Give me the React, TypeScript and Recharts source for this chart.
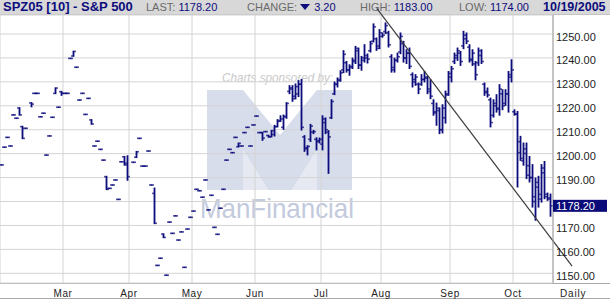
import React from "react";
import { ComposedChart, Bar, XAxis, YAxis, CartesianGrid, ReferenceLine } from "recharts";

const NAVY = "#0c0c7c";
const GRID = "#d4d4d4";
const FONT = "'Liberation Sans', Arial, sans-serif";

// trading-day index of the first session of each month (day 0 = Jan 28)
const monthTicks = [21, 43, 64, 85, 107, 127, 150, 171];
const monthLabels = ["Mar", "Apr", "May", "Jun", "Jul", "Aug", "Sep", "Oct"];
const priceTicks = [1150, 1160, 1170, 1180, 1190, 1200, 1210, 1220, 1230, 1240, 1250];
const priceDomain = [1145.95, 1257.94];
const lastClose = 1178.2;

// hand drawn trend line (day index, price)
const trendStart = { day: 125.1, price: 1260.7 };
const trendEnd = { day: 190.2, price: 1153.0 };

// daily [open, high, low, close], null = no trade
const ohlc: ([number, number, number, number] | null)[] = [
  [1195.3, 1195.3, 1195.3, 1195.3],
  [1202.7, 1202.7, 1202.7, 1202.7],
  [1206.8, 1206.8, 1206.8, 1206.8],
  [1203.2, 1203.2, 1203.2, 1203.2],
  [1216.2, 1216.2, 1216.2, 1216.2],
  [1214.8, 1214.8, 1214.8, 1214.8],
  [1219.1, 1219.1, 1216.2, 1216.2],
  [1211.3, 1211.3, 1206.4, 1206.4],
  [1210.6, 1210.6, 1210.6, 1210.6],
  null,
  [1221.2, 1221.2, 1219.7, 1220.7],
  [1225.2, 1225.2, 1225.2, 1225.2],
  [1225.2, 1225.2, 1225.2, 1225.2],
  [1215.4, 1215.4, 1215.4, 1215.4],
  [1216.9, 1216.9, 1216.9, 1216.9],
  [1199.4, 1199.4, 1199.4, 1199.4],
  [1207.4, 1207.4, 1207.4, 1207.4],
  [1215.2, 1215.2, 1215.2, 1215.2],
  [1225.2, 1227.4, 1225.2, 1227.4],
  [1219.4, 1219.4, 1219.4, 1219.4],
  [1225.9, 1225.9, 1224.5, 1225.2],
  [1225.2, 1225.2, 1225.2, 1225.2],
  [1225.2, 1225.2, 1225.2, 1225.2],
  [1239.8, 1239.8, 1239.8, 1239.8],
  [1240.8, 1242.7, 1240.8, 1242.7],
  [1236.1, 1236.1, 1236.1, 1236.1],
  [1222.4, 1222.4, 1222.4, 1222.4],
  [1225.2, 1225.2, 1225.2, 1225.2],
  [1216.4, 1216.4, 1216.4, 1216.4],
  [1223.1, 1223.1, 1223.1, 1223.1],
  [1214.1, 1214.1, 1212.4, 1212.4],
  [1203.2, 1203.2, 1203.2, 1203.2],
  [1205.2, 1205.2, 1205.2, 1205.2],
  [1201.8, 1201.8, 1201.8, 1201.8],
  [1197.3, 1197.3, 1197.3, 1197.3],
  [1190.4, 1190.4, 1185.1, 1185.1],
  [1185.5, 1185.5, 1185.5, 1185.5],
  [1186.9, 1186.9, 1186.9, 1186.9],
  [1189.0, 1189.0, 1189.0, 1189.0],
  [1180.9, 1180.9, 1180.9, 1180.9],
  [1196.6, 1196.6, 1196.6, 1196.6],
  [1198.7, 1198.7, 1195.3, 1195.3],
  [1196.0, 1199.0, 1189.0, 1190.4],
  null,
  [1196.4, 1196.4, 1196.4, 1196.4],
  [1198.5, 1200.8, 1198.5, 1200.8],
  [1206.4, 1206.4, 1206.4, 1206.4],
  [1194.8, 1194.8, 1194.8, 1194.8],
  [1194.8, 1194.8, 1194.8, 1194.8],
  [1201.1, 1201.1, 1201.1, 1201.1],
  [1186.9, 1186.9, 1186.9, 1186.9],
  [1183.4, 1185.5, 1170.9, 1170.9],
  [1153.3, 1153.3, 1153.3, 1153.3],
  [1156.3, 1156.3, 1156.3, 1156.3],
  [1166.4, 1166.4, 1165.0, 1165.0],
  [1149.2, 1149.2, 1149.2, 1149.2],
  [1171.4, 1171.4, 1171.4, 1171.4],
  [1166.7, 1166.7, 1166.7, 1166.7],
  [1174.0, 1174.0, 1174.0, 1174.0],
  [1163.9, 1163.9, 1163.9, 1163.9],
  [1167.3, 1167.3, 1167.3, 1167.3],
  [1152.5, 1152.5, 1152.5, 1152.5],
  [1168.5, 1168.5, 1168.5, 1168.5],
  [1173.4, 1173.4, 1173.4, 1173.4],
  [1176.0, 1176.0, 1176.0, 1176.0],
  [1185.1, 1185.1, 1185.1, 1185.1],
  [1184.5, 1184.5, 1184.5, 1184.5],
  [1181.8, 1181.8, 1181.8, 1181.8],
  [1189.0, 1189.0, 1189.0, 1189.0],
  [1176.5, 1176.5, 1176.5, 1176.5],
  [1182.6, 1182.6, 1182.6, 1182.6],
  [1169.2, 1169.2, 1169.2, 1169.2],
  [1166.3, 1166.3, 1166.3, 1166.3],
  [1177.2, 1177.2, 1177.2, 1177.2],
  [1185.1, 1185.1, 1185.1, 1185.1],
  [1197.3, 1197.3, 1197.3, 1197.3],
  [1201.8, 1201.8, 1201.8, 1201.8],
  [1200.4, 1200.4, 1200.4, 1200.4],
  [1206.8, 1206.8, 1206.8, 1206.8],
  [1202.9, 1204.3, 1202.9, 1204.3],
  [1203.2, 1203.2, 1203.2, 1203.2],
  [1208.8, 1208.8, 1208.8, 1208.8],
  [1211.0, 1211.0, 1211.0, 1211.0],
  [1203.2, 1203.2, 1203.2, 1203.2],
  [1212.0, 1212.0, 1212.0, 1212.0],
  [1215.7, 1215.7, 1215.7, 1215.7],
  [1208.8, 1208.8, 1208.8, 1208.8],
  [1208.8, 1208.8, 1205.7, 1206.5],
  [1209.2, 1209.2, 1209.2, 1209.2],
  [1207.6, 1207.6, 1207.0, 1207.0],
  [1207.1, 1209.6, 1207.1, 1209.6],
  [1208.0, 1211.7, 1207.5, 1211.3],
  [1211.3, 1214.1, 1211.3, 1213.5],
  [1213.8, 1215.7, 1213.6, 1214.5],
  [1211.0, 1216.0, 1210.3, 1215.5],
  [1215.5, 1221.2, 1214.9, 1221.0],
  [1226.0, 1228.3, 1225.2, 1227.5],
  [1227.0, 1228.3, 1222.0, 1223.0],
  [1224.0, 1229.0, 1223.0, 1228.0],
  [1225.0, 1230.4, 1224.0, 1229.0],
  [1229.0, 1230.9, 1210.0, 1211.0],
  [1207.0, 1207.4, 1201.1, 1202.5],
  [1202.0, 1203.2, 1199.6, 1203.0],
  [1206.0, 1212.1, 1205.2, 1211.5],
  [1209.0, 1209.6, 1208.5, 1209.2],
  [1206.0, 1206.5, 1201.7, 1205.5],
  [1205.0, 1206.4, 1204.6, 1206.0],
  [1204.0, 1215.7, 1201.7, 1214.5],
  [1213.0, 1214.8, 1208.5, 1210.0],
  [1209.0, 1209.5, 1191.9, 1207.0],
  [1215.0, 1222.4, 1214.8, 1221.8],
  [1225.0, 1229.8, 1224.8, 1229.0],
  [1229.0, 1231.5, 1228.0, 1230.5],
  [1231.0, 1234.5, 1230.4, 1233.8],
  [1235.0, 1242.9, 1234.0, 1241.5],
  [1238.0, 1238.4, 1234.2, 1235.0],
  [1235.0, 1237.0, 1232.9, 1236.5],
  [1236.0, 1239.8, 1235.7, 1239.0],
  [1238.5, 1244.7, 1237.8, 1244.0],
  [1243.0, 1244.0, 1235.7, 1237.0],
  [1237.0, 1240.5, 1235.0, 1240.0],
  [1239.0, 1245.4, 1238.4, 1241.0],
  [1240.0, 1241.5, 1238.0, 1239.5],
  [1243.0, 1246.8, 1242.6, 1246.0],
  [1247.0, 1254.1, 1246.8, 1253.0],
  [1248.0, 1248.2, 1243.3, 1244.0],
  [1245.0, 1251.7, 1244.0, 1250.5],
  [1249.0, 1250.3, 1248.8, 1249.5],
  [1251.0, 1254.5, 1250.3, 1253.5],
  [1250.5, 1251.0, 1244.7, 1245.5],
  [1240.5, 1241.2, 1234.2, 1236.0],
  [1235.0, 1239.8, 1234.2, 1239.0],
  [1239.0, 1241.9, 1238.4, 1240.5],
  [1242.5, 1250.3, 1241.9, 1249.0],
  [1246.0, 1246.8, 1238.4, 1240.0],
  [1240.0, 1243.3, 1237.8, 1242.0],
  [1242.0, 1244.0, 1235.7, 1236.5],
  [1233.0, 1233.6, 1228.0, 1231.0],
  [1230.0, 1232.9, 1228.7, 1232.0],
  [1229.0, 1229.4, 1225.2, 1227.0],
  [1229.0, 1232.9, 1228.7, 1231.0],
  [1231.0, 1234.2, 1230.1, 1232.0],
  [1231.5, 1232.2, 1225.2, 1226.0],
  [1227.0, 1230.8, 1223.1, 1224.0],
  [1221.0, 1222.4, 1216.2, 1217.5],
  [1217.0, 1221.0, 1212.0, 1219.0],
  [1218.0, 1219.0, 1208.5, 1210.0],
  [1210.0, 1220.3, 1208.8, 1219.0],
  [1215.0, 1226.0, 1212.9, 1224.5],
  [1225.0, 1234.2, 1224.5, 1233.5],
  [1232.0, 1236.3, 1230.1, 1235.5],
  [1238.5, 1241.9, 1237.8, 1241.0],
  [1240.0, 1244.0, 1239.1, 1243.0],
  [1242.0, 1242.6, 1237.0, 1238.5],
  [1245.0, 1251.0, 1244.0, 1249.5],
  [1248.0, 1250.3, 1246.1, 1247.0],
  [1244.5, 1245.4, 1238.4, 1239.0],
  [1239.5, 1243.3, 1237.0, 1242.0],
  [1237.5, 1238.4, 1231.0, 1233.0],
  [1238.0, 1244.0, 1237.0, 1243.0],
  [1241.0, 1243.3, 1237.8, 1238.5],
  [1229.0, 1229.4, 1224.5, 1225.5],
  [1226.0, 1227.3, 1223.8, 1224.5],
  [1222.5, 1223.1, 1211.3, 1213.0],
  [1216.0, 1222.4, 1215.4, 1221.0],
  [1220.0, 1224.5, 1217.5, 1218.5],
  [1219.0, 1228.7, 1216.2, 1227.0],
  [1225.0, 1226.6, 1218.5, 1220.0],
  [1221.0, 1226.6, 1220.3, 1225.0],
  [1225.0, 1234.2, 1217.5, 1232.0],
  [1233.0, 1239.1, 1230.1, 1235.0],
  [1217.5, 1218.2, 1216.2, 1216.5],
  [1216.5, 1217.5, 1186.2, 1200.4],
  [1205.0, 1207.1, 1197.3, 1198.0],
  [1197.0, 1204.3, 1195.3, 1200.1],
  [1202.0, 1204.3, 1189.7, 1191.0],
  [1195.0, 1198.7, 1188.3, 1190.0],
  [1190.0, 1195.3, 1177.8, 1180.0],
  [1182.0, 1189.7, 1172.3, 1188.0],
  [1186.0, 1190.4, 1177.8, 1181.0],
  [1183.0, 1195.3, 1179.9, 1194.0],
  [1192.0, 1196.6, 1181.3, 1183.0],
  [1182.0, 1183.4, 1180.6, 1181.5],
  [1181.0, 1183.0, 1174.0, 1178.2],
];

const data = ohlc.map((b, i) =>
  b ? { i, o: b[0], h: b[1], l: b[2], c: b[3], range: [b[2], b[1]] } : { i, range: null }
);

function OhlcShape(props: any) {
  const { x, y, width, height, payload } = props;
  if (!payload || payload.h == null) return null;
  const cx = x + width / 2;
  const top = Math.min(y, y + height);
  const bot = Math.max(y, y + height);
  const span = payload.h - payload.l;
  const py = (v: number) => (span === 0 ? top : top + ((payload.h - v) / span) * (bot - top));
  const yo = py(payload.o);
  const yc = py(payload.c);
  return (
    <g fill={NAVY}>
      <rect x={cx - 0.9} y={top - 0.8} width={1.8} height={bot - top + 1.6} />
      <rect x={cx - 2.2} y={yo - 0.8} width={1.4} height={1.6} />
      <rect x={cx + 0.8} y={yc - 0.8} width={1.4} height={1.6} />
    </g>
  );
}

function MonthTick(props: any) {
  const { x, payload } = props;
  const idx = monthTicks.indexOf(payload.value + 0.5);
  return (
    <text x={x} y={297} textAnchor="middle" fontFamily={FONT} fontSize={10} fill="#222" letterSpacing={0.6}>
      {monthLabels[idx]}
    </text>
  );
}

function PriceTick(props: any) {
  const { x, y, payload } = props;
  return (
    <text x={x} y={y + 6.5} textAnchor="start" fontFamily={FONT} fontSize={11} fill="#222">
      {payload.value.toFixed(2)}
    </text>
  );
}

// drawn by a second, narrow axis at the far right so that it sits above the price labels
function LastPriceTick(props: any) {
  const { x, y, payload } = props;
  const left = x - 55;
  return (
    <g>
      <rect x={left} y={y - 6} width={54} height={12} fill="#0a0a78" />
      <text x={left + 3} y={y + 4} fontFamily={FONT} fontSize={11} fill="#fff">
        {payload.value.toFixed(2)}
      </text>
    </g>
  );
}

const gray = { color: "#6a6a6a" };
const blue = { color: NAVY };

export default function App() {
  return (
    <div style={{ position: "relative", width: 610, height: 300, background: "#fff", overflow: "hidden", fontFamily: FONT }}>
      <style>{"body{margin:0}"}</style>
      {/* header strip */}
      <div style={{ position: "absolute", left: 0, top: 0, width: 610, height: 14, background: "#d8d8d8", borderBottom: "1px solid #c2c2c2", fontSize: 11, lineHeight: "14px", whiteSpace: "nowrap" }}>
        <span style={{ position: "absolute", left: 3, fontWeight: "bold", fontSize: 13, ...blue }}>SPZ05 [10] - S&amp;P 500</span>
        <span style={{ position: "absolute", left: 146 }}>
          <span style={gray}>LAST: </span><span style={blue}>1178.20</span>
        </span>
        <span style={{ position: "absolute", left: 247 }}>
          <span style={gray}>CHANGE: </span>
          <svg width={10} height={7} style={{ verticalAlign: "0px" }}><polygon points="0,0 10,0 5,6" fill={NAVY} /></svg>
          <span style={{ ...blue, marginLeft: 4 }}>3.20</span>
        </span>
        <span style={{ position: "absolute", left: 360 }}>
          <span style={gray}>HIGH: </span><span style={blue}>1183.00</span>
        </span>
        <span style={{ position: "absolute", left: 459 }}>
          <span style={gray}>LOW: </span><span style={blue}>1174.00</span>
        </span>
        <span style={{ position: "absolute", left: 543, fontWeight: "bold", fontSize: 12.5, ...blue }}>10/19/2005</span>
      </div>

      {/* sponsor watermark and frame */}
      <svg width={610} height={300} style={{ position: "absolute", left: 0, top: 0 }}>
        <text x={222} y={82} fontFamily={FONT} fontStyle="italic" fontSize={13} fill="#cacaca" textLength={111} lengthAdjust="spacingAndGlyphs">
          Charts sponsored by:
        </text>
        <polygon
          points="207,90 243,90 280,135 317,90 352,90 352,190 317,190 317,150 292,190 268,190 243,150 243,190 207,190"
          fill="#d8ddeb"
        />
        <polygon points="243,150 268,190 243,190" fill="#e6e9f2" />
        <polygon points="317,150 292,190 317,190" fill="#e6e9f2" />
        <text x={200} y={218} fontFamily={FONT} fontSize={28} fill="#c3cadd" textLength={154} lengthAdjust="spacingAndGlyphs">
          ManFinancial
        </text>
        <line x1={0} x2={610} y1={283.5} y2={283.5} stroke="#a8a8a8" />
        <line x1={0} x2={610} y1={298.5} y2={298.5} stroke="#a8a8a8" />
        <text x={560} y={297} fontFamily={FONT} fontSize={10} fill="#222" letterSpacing={0.8}>Daily</text>
      </svg>

      <div style={{ position: "absolute", left: 0, top: 0 }}>
        <ComposedChart width={610} height={300} data={data} margin={{ top: 15, right: 0, bottom: 0, left: 0 }}>
          <CartesianGrid stroke={GRID} />
          <XAxis
            type="number"
            dataKey="i"
            domain={[-0.5, 183.83]}
            allowDataOverflow
            ticks={monthTicks.map((t) => t - 0.5)}
            tick={<MonthTick />}
            tickLine={false}
            axisLine={false}
            height={17}
            interval={0}
          />
          <YAxis
            orientation="right"
            width={55}
            domain={priceDomain}
            allowDataOverflow
            ticks={priceTicks}
            tick={<PriceTick />}
            tickSize={0}
            tickMargin={3}
            axisLine={{ stroke: "#a0a0a0" }}
            tickLine={false}
            interval={0}
          />
          <YAxis
            yAxisId="last"
            orientation="right"
            width={2}
            domain={priceDomain}
            allowDataOverflow
            ticks={[lastClose]}
            tick={<LastPriceTick />}
            tickSize={0}
            tickMargin={0}
            axisLine={false}
            tickLine={false}
            interval={0}
          />
          <Bar dataKey="range" barSize={3} shape={<OhlcShape />} isAnimationActive={false} />
          <ReferenceLine
            segment={[
              { x: trendStart.day, y: trendStart.price },
              { x: trendEnd.day, y: trendEnd.price },
            ]}
            stroke="#3c3c3c"
            strokeWidth={1.2}
            ifOverflow="visible"
          />
        </ComposedChart>
      </div>
    </div>
  );
}
